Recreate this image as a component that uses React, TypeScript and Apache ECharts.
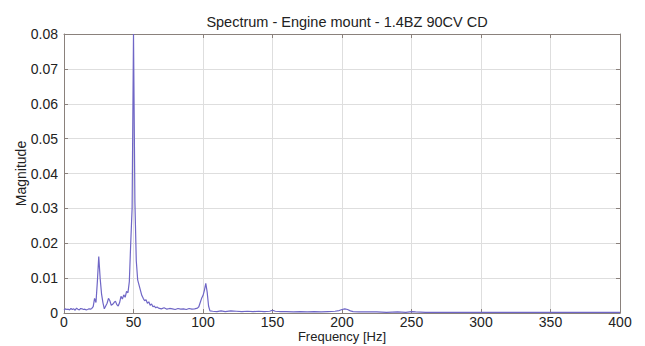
import React, { useEffect, useRef } from "react";
import * as echarts from "echarts";

const title = "Spectrum - Engine mount - 1.4BZ 90CV CD";
const xName = "Frequency [Hz]";
const yName = "Magnitude";
const xTicks = [0, 50, 100, 150, 200, 250, 300, 350, 400];
const yTicks = [0, 0.01, 0.02, 0.03, 0.04, 0.05, 0.06, 0.07, 0.08];

const freq = [
  0, 1, 2, 3, 4, 5, 6, 7, 8, 9, 10, 11, 12, 13, 14, 15, 16, 17, 18, 19, 20,
  21, 22, 23, 24, 25, 26, 27, 28, 29, 30, 31, 32, 33, 34, 35, 36, 37, 38, 39, 40,
  41, 42, 43, 44, 45, 46, 47, 48, 49, 50, 51, 52, 53, 54, 55, 56, 57, 58, 59, 60,
  61, 62, 63, 64, 65, 66, 67, 68, 70, 72, 74, 76, 78, 80, 82, 84, 86, 88, 90, 92,
  94, 96, 97, 98, 99, 100, 101, 102, 103, 104, 105, 107, 110, 113, 116, 120, 124,
  128, 132, 136, 140, 144, 148, 150, 152, 156, 160, 165, 170, 175, 180, 185, 190,
  195, 198, 200, 202, 204, 206, 208, 212, 218, 225, 232, 240, 246, 250, 253, 260,
  270, 280, 290, 300, 310, 320, 330, 340, 350, 360, 370, 380, 390, 400,
];

const magnitude = [
  0.0008, 0.0012, 0.0010, 0.0011, 0.0009, 0.0013, 0.0010, 0.0012, 0.0008, 0.0014, 0.0011,
  0.0009, 0.0013, 0.0012, 0.0010, 0.0011, 0.0009, 0.0010, 0.0012, 0.0011, 0.0013,
  0.0018, 0.0042, 0.0030, 0.0090, 0.0162, 0.0100, 0.0055, 0.0030, 0.0012, 0.0020,
  0.0028, 0.0042, 0.0035, 0.0022, 0.0025, 0.0030, 0.0034, 0.0024, 0.0020, 0.0030,
  0.0048, 0.0040, 0.0052, 0.0045, 0.0062, 0.0058, 0.0090, 0.0200, 0.0300, 0.0800,
  0.0320, 0.0150, 0.0095, 0.0080, 0.0065, 0.0050, 0.0042, 0.0035, 0.0038, 0.0028,
  0.0032, 0.0022, 0.0026, 0.0018, 0.0020, 0.0015, 0.0017, 0.0014, 0.0012, 0.0015,
  0.0011, 0.0013, 0.0012, 0.0010, 0.0013, 0.0011, 0.0012, 0.0010, 0.0013, 0.0011,
  0.0012, 0.0014, 0.0018, 0.0030, 0.0042, 0.0050, 0.0065, 0.0085, 0.0060, 0.0020,
  0.0006, 0.0005, 0.0004, 0.0006, 0.0004, 0.0006, 0.0005,
  0.0004, 0.0005, 0.0004, 0.0005, 0.0004, 0.0005, 0.0008, 0.0005, 0.0004, 0.0004,
  0.0003, 0.0004, 0.0003, 0.0004, 0.0003, 0.0004,
  0.0005, 0.0007, 0.0010, 0.0012, 0.0010, 0.0006, 0.0004, 0.0003, 0.0003, 0.0003,
  0.0002, 0.0003, 0.0002, 0.0004, 0.0003, 0.0002,
  0.0002, 0.0002, 0.0002, 0.0002, 0.0002, 0.0002, 0.0002, 0.0002, 0.0002, 0.0002,
  0.0002, 0.0002, 0.0002, 0.0002,
];

const axisColor = "#8a817c";
const gridColor = "#dedede";
const textColor = "#222222";
const font = "Liberation Sans, Arial, sans-serif";

export default function App() {
  const ref = useRef<HTMLDivElement>(null);
  useEffect(() => {
    document.body.style.margin = "0";
    if (!ref.current) return;
    const chart = echarts.init(ref.current, undefined, { renderer: "svg" });
    const data = freq.map((f, i) => [f, magnitude[i]]);
    chart.setOption({
      animation: false,
      backgroundColor: "#ffffff",
      title: {
        text: title,
        left: 342,
        textAlign: "center",
        top: 9,
        textStyle: { fontFamily: font, fontSize: 14.5, fontWeight: "normal", color: textColor },
      },
      grid: {
        left: 64,
        right: 25,
        top: 34,
        bottom: 33,
        containLabel: false,
        outerBoundsMode: "none",
      },
      xAxis: [
        {
          type: "value",
          min: xTicks[0],
          max: xTicks[xTicks.length - 1],
          interval: 50,
          name: xName,
          nameLocation: "middle",
          nameGap: 17,
          nameMoveOverlap: false,
          nameTextStyle: { fontFamily: font, fontSize: 13, color: textColor, lineHeight: 13 },
          axisLine: { show: true, onZero: false, lineStyle: { color: axisColor, width: 1 } },
          axisTick: { show: true, inside: true, length: 4, lineStyle: { color: axisColor } },
          axisLabel: { fontFamily: font, fontSize: 14, color: textColor, margin: 2, lineHeight: 14 },
          splitLine: { show: true, lineStyle: { color: gridColor, width: 1 } },
        },
        {
          type: "value",
          position: "top",
          min: xTicks[0],
          max: xTicks[xTicks.length - 1],
          interval: 50,
          axisLine: { show: true, onZero: false, lineStyle: { color: axisColor, width: 1 } },
          axisTick: { show: true, inside: true, length: 4, lineStyle: { color: axisColor } },
          axisLabel: { show: false },
          splitLine: { show: false },
        },
      ],
      yAxis: [
        {
          type: "value",
          min: yTicks[0],
          max: yTicks[yTicks.length - 1],
          interval: 0.01,
          name: yName,
          nameLocation: "middle",
          nameGap: 36,
          nameMoveOverlap: false,
          nameTextStyle: { fontFamily: font, fontSize: 14, color: textColor },
          axisLine: { show: true, onZero: false, lineStyle: { color: axisColor, width: 1 } },
          axisTick: { show: true, inside: true, length: 4, lineStyle: { color: axisColor } },
          axisLabel: {
            fontFamily: font,
            fontSize: 14,
            color: textColor,
            margin: 6,
            formatter: (v: number) => (v === 0 ? "0" : v.toFixed(2)),
          },
          splitLine: { show: true, lineStyle: { color: gridColor, width: 1 } },
        },
        {
          type: "value",
          position: "right",
          min: yTicks[0],
          max: yTicks[yTicks.length - 1],
          interval: 0.01,
          axisLine: { show: true, onZero: false, lineStyle: { color: axisColor, width: 1 } },
          axisTick: { show: true, inside: true, length: 4, lineStyle: { color: axisColor } },
          axisLabel: { show: false },
          splitLine: { show: false },
        },
      ],
      series: [
        {
          type: "line",
          data,
          xAxisIndex: 0,
          yAxisIndex: 0,
          showSymbol: false,
          symbol: "none",
          lineStyle: { color: "#6f66c6", width: 1.2 },
          clip: true,
        },
      ],
    });
    return () => chart.dispose();
  }, []);
  return <div ref={ref} style={{ width: 645, height: 346 }} />;
}
